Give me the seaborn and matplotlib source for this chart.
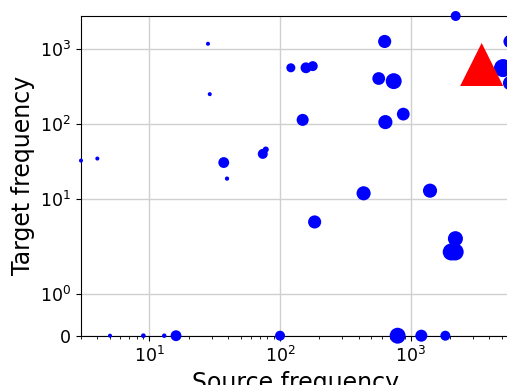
import numpy as np
import pandas as pd
import matplotlib
matplotlib.use("Agg")
import matplotlib.pyplot as plt
import seaborn as sns

# Frequency of each pair in the source and target corpora, and how many pairs share it
source_freq = [3.0, 4.0, 28.1, 29.0, 37.1, 39.3, 73.8, 77.8,
               2208, 632, 121, 158, 178, 569, 741, 149, 640, 877,
               436, 1405, 184, 2198, 2042, 2188,
               5.0, 9.0, 13.0, 16.0, 100, 794, 1205, 1840,
               5750, 5084, 5750]
target_freq = [32.6, 34.7, 1156, 248, 30.7, 18.8, 40.0, 45.7,
               2700, 1240, 555, 555, 584, 400, 369, 113, 105.6, 134.8,
               12.0, 13.0, 5.0, 3.0, 2.0, 2.0,
               0, 0, 0, 0, 0, 0, 0, 0,
               1240, 550, 348]
pair_count = [1.8, 1.8, 1.8, 1.8, 13, 2.0, 11, 4,
              11, 19, 9, 13, 11, 18, 28, 16, 22, 18,
              22, 22, 19, 25, 32, 32,
              1.8, 2.4, 2.2, 13, 11, 28, 16, 11,
              19, 36, 22]

# Highlighted reference pair
ref_source = [3490]
ref_target = [614]

df = pd.DataFrame({"source": source_freq, "target": target_freq, "count": pair_count})
ref = pd.DataFrame({"source": ref_source, "target": ref_target})

fig = plt.figure(figsize=(5.07, 3.85), dpi=100)
ax = fig.add_axes([81 / 507, 49.3 / 385, 429 / 507, 319.7 / 385])

area_per_count = 4.7
sns.scatterplot(data=df, x="source", y="target", size="count",
                sizes=(area_per_count * min(pair_count), area_per_count * max(pair_count)),
                size_norm=(min(pair_count), max(pair_count)),
                color="blue", edgecolor="none", linewidth=0, legend=False,
                clip_on=False, zorder=3, ax=ax)
sns.scatterplot(data=ref, x="source", y="target", marker="^", s=960,
                color="red", edgecolor="none", linewidth=0, legend=False,
                clip_on=False, zorder=4, ax=ax)

ax.set_xscale("log")
ax.set_yscale("symlog", linthresh=2)
ax.set_xlim(min(source_freq), max(source_freq))
ax.set_ylim(0, max(target_freq))

ax.grid(True, which="major", color="#d0d0d0", linewidth=1.0)
ax.set_axisbelow(True)
ax.tick_params(axis="both", which="major", labelsize=12.5)
ax.set_xlabel("Source frequency", fontsize=17)
ax.set_ylabel("Target frequency", fontsize=17)

fig.savefig("out.png", dpi=100)
